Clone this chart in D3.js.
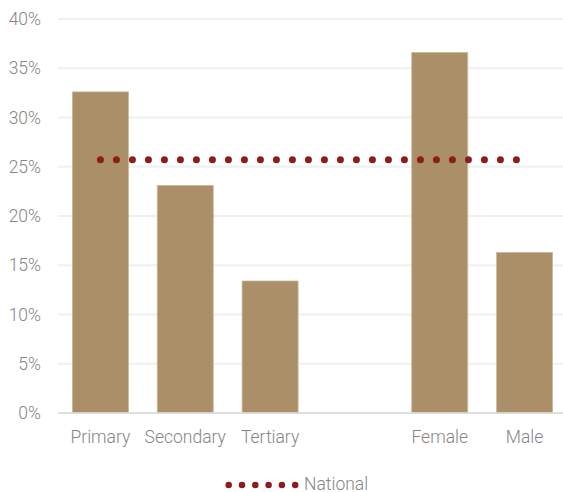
<!DOCTYPE html>
<html>
<head>
<meta charset="utf-8">
<script src="https://cdn.jsdelivr.net/npm/d3@7"></script>
<style>
  html, body { margin: 0; padding: 0; background: #fff; }
  svg { display: block; }
  text { font-family: Roboto, "Noto Sans", sans-serif; font-weight: 300; fill: #858585; }
</style>
</head>
<body>
<svg id="chart" width="563" height="492"></svg>
<script>
// Categories (the blank slot separates education levels from sex)
const categories = ["Primary", "Secondary", "Tertiary", "", "Female", "Male"];
const shares = [32.6, 23.1, 13.4, null, 36.6, 16.3];
const nationalShare = 25.7;
const yTicks = [0, 5, 10, 15, 20, 25, 30, 35, 40];
const legendLabel = "National";

const svg = d3.select("#chart");
const plotLeft = 58, plotRight = 567, plotTop = 19, plotBottom = 413;
const fontSize = 17.5;

const x = d3.scaleBand().domain(categories).range([plotLeft, plotRight]).paddingInner(0.34).paddingOuter(0.17);
const y = d3.scaleLinear().domain([0, 40]).range([plotBottom, plotTop]);

// Horizontal gridlines
svg.append("g").selectAll("line")
  .data(yTicks.filter(d => d > 0))
  .join("line")
  .attr("x1", plotLeft).attr("x2", 563)
  .attr("y1", d => y(d)).attr("y2", d => y(d))
  .attr("stroke", "#f0f0f0").attr("stroke-width", 2);

// Y axis labels
const yAxis = d3.axisLeft(y).tickValues(yTicks).tickFormat(d => d + "%").tickSize(0).tickPadding(0);
const yg = svg.append("g").attr("transform", `translate(41,0)`).call(yAxis);
yg.select(".domain").remove();
yg.selectAll("text").attr("font-size", fontSize).attr("fill", "#858585")
  .style("font-family", "Roboto, sans-serif").style("font-weight", 300);

// Bars
const barData = categories.map((c, i) => ({ c, v: shares[i] })).filter(d => d.v != null);
svg.append("g").selectAll("rect")
  .data(barData)
  .join("rect")
  .attr("x", d => x(d.c))
  .attr("width", x.bandwidth())
  .attr("y", d => y(d.v))
  .attr("height", d => y(0) - y(d.v))
  .attr("fill", "#aa8f68")
  .attr("stroke", "#cbb999").attr("stroke-width", 0.8);

// Baseline
svg.append("line")
  .attr("x1", plotLeft).attr("x2", 563)
  .attr("y1", y(0)).attr("y2", y(0))
  .attr("stroke", "#d9d9d9").attr("stroke-opacity", 0.85).attr("stroke-width", 2);

// X axis labels
const xAxis = d3.axisBottom(x).tickSize(0).tickPadding(0);
const xg = svg.append("g").attr("transform", `translate(0,${plotBottom + 18})`).call(xAxis);
xg.select(".domain").remove();
xg.selectAll("text").attr("font-size", fontSize).attr("fill", "#858585")
  .style("font-family", "Roboto, sans-serif").style("font-weight", 300);

// National reference line, dotted from first to last category
const xc = c => x(c) + x.bandwidth() / 2;
svg.append("line")
  .attr("x1", xc(categories[0])).attr("x2", xc(categories[categories.length - 1]))
  .attr("y1", y(nationalShare)).attr("y2", y(nationalShare))
  .attr("stroke", "#8b1c1f").attr("stroke-width", 7)
  .attr("stroke-linecap", "round").attr("stroke-dasharray", "0 16");

// Legend
const lg = svg.append("g");
lg.append("line")
  .attr("x1", 228.7).attr("x2", 296).attr("y1", 485).attr("y2", 485)
  .attr("stroke", "#8b1c1f").attr("stroke-width", 6.5)
  .attr("stroke-linecap", "round").attr("stroke-dasharray", "0 13.3");
lg.append("text")
  .attr("x", 304).attr("y", 484).attr("dy", "0.35em")
  .attr("font-size", fontSize).text(legendLabel);
</script>
</body>
</html>
